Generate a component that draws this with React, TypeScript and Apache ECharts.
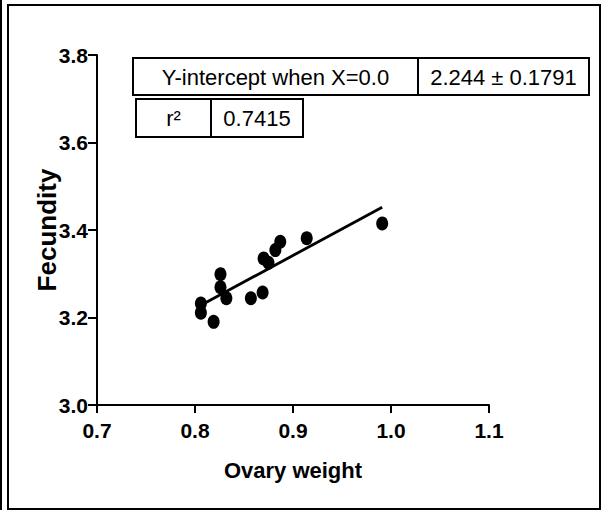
import React, { useEffect, useRef } from "react";
import * as echarts from "echarts";

const ovaryWeight = [0.991, 0.914, 0.887, 0.882, 0.870, 0.875, 0.826, 0.826, 0.832, 0.857, 0.869, 0.806, 0.806, 0.819];
const fecundity = [3.415, 3.381, 3.373, 3.354, 3.335, 3.325, 3.299, 3.269, 3.244, 3.244, 3.257, 3.232, 3.211, 3.190];
const fitX = [0.806, 0.991];
const fitY = [3.228, 3.452];
const xTicks = [0.7, 0.8, 0.9, 1.0, 1.1];
const yTicks = [3.0, 3.2, 3.4, 3.6, 3.8];
const tableRow1 = ["Y-intercept when X=0.0", "2.244 ± 0.1791"];
const tableRow2 = ["r²", "0.7415"];

const BOLD = "'Liberation Sans', Arial, sans-serif";
const REG = "'Liberation Sans', Arial, sans-serif";

export default function App() {
  const ref = useRef<HTMLDivElement>(null);
  useEffect(() => {
    if (!ref.current) return;
    const chart = echarts.init(ref.current, null, { renderer: "svg" });
    const boxStyle = { fill: "#fff", stroke: "#000", lineWidth: 2 };
    const txt = (x: number, y: number, s: string) => ({
      type: "text",
      x,
      y,
      style: { text: s, font: `22px ${REG}`, fill: "#000", textAlign: "center", textVerticalAlign: "middle" },
      z: 101,
    });
    chart.setOption({
      animation: false,
      backgroundColor: "#fff",
      grid: { left: 97, right: 114, top: 55, bottom: 105, containLabel: false },
      xAxis: {
        type: "value",
        min: xTicks[0],
        max: xTicks[xTicks.length - 1],
        interval: 0.1,
        name: "Ovary weight",
        nameLocation: "middle",
        nameGap: 54,
        nameTextStyle: { fontFamily: BOLD, fontWeight: "bold", fontSize: 22, color: "#000" },
        axisLine: { lineStyle: { color: "#000", width: 2 } },
        axisTick: { show: true, length: 8, lineStyle: { color: "#000", width: 2 } },
        axisLabel: {
          color: "#000",
          fontFamily: BOLD,
          fontWeight: "bold",
          fontSize: 21,
          margin: 15,
          formatter: (v: number) => v.toFixed(1),
        },
        splitLine: { show: false },
      },
      yAxis: {
        type: "value",
        min: yTicks[0],
        max: yTicks[yTicks.length - 1],
        interval: 0.2,
        name: "Fecundity",
        nameLocation: "middle",
        nameGap: 37,
        nameMoveOverlap: false,
        nameTextStyle: { fontFamily: BOLD, fontWeight: "bold", fontSize: 26, color: "#000" },
        axisLine: { show: true, lineStyle: { color: "#000", width: 2 } },
        axisTick: { show: true, length: 9, lineStyle: { color: "#000", width: 2 } },
        axisLabel: {
          color: "#000",
          fontFamily: BOLD,
          fontWeight: "bold",
          fontSize: 21,
          margin: 9,
          formatter: (v: number) => v.toFixed(1),
        },
        splitLine: { show: false },
      },
      series: [
        {
          type: "scatter",
          data: ovaryWeight.map((x, i) => [x, fecundity[i]]),
          symbol: "circle",
          symbolSize: [12, 14],
          itemStyle: { color: "#000", opacity: 1 },
          z: 3,
        },
        {
          type: "line",
          data: fitX.map((x, i) => [x, fitY[i]]),
          showSymbol: false,
          symbol: "none",
          lineStyle: { color: "#000", width: 2.8 },
          z: 2,
        },
      ],
      graphic: [
        { type: "line", shape: { x1: 1, y1: 0, x2: 1, y2: 510 }, style: { stroke: "#000", lineWidth: 2 } },
        { type: "rect", shape: { x: 8, y: 5, width: 592, height: 504 }, style: { fill: "none", stroke: "#000", lineWidth: 2 }, z: 0 },
        { type: "rect", shape: { x: 133, y: 58, width: 285, height: 37 }, style: boxStyle, z: 100 },
        { type: "rect", shape: { x: 418, y: 58, width: 171, height: 37 }, style: boxStyle, z: 100 },
        { type: "rect", shape: { x: 136, y: 99, width: 75, height: 38 }, style: boxStyle, z: 100 },
        { type: "rect", shape: { x: 211, y: 99, width: 92, height: 38 }, style: boxStyle, z: 100 },
        txt(275.5, 77, tableRow1[0]),
        txt(503.5, 77, tableRow1[1]),
        txt(173.5, 118, tableRow2[0]),
        txt(257, 118, tableRow2[1]),
      ],
    });
    return () => chart.dispose();
  }, []);
  return (
    <div
      ref={ref}
      style={{ position: "fixed", left: 0, top: 0, width: 603, height: 510, background: "#fff" }}
    />
  );
}
